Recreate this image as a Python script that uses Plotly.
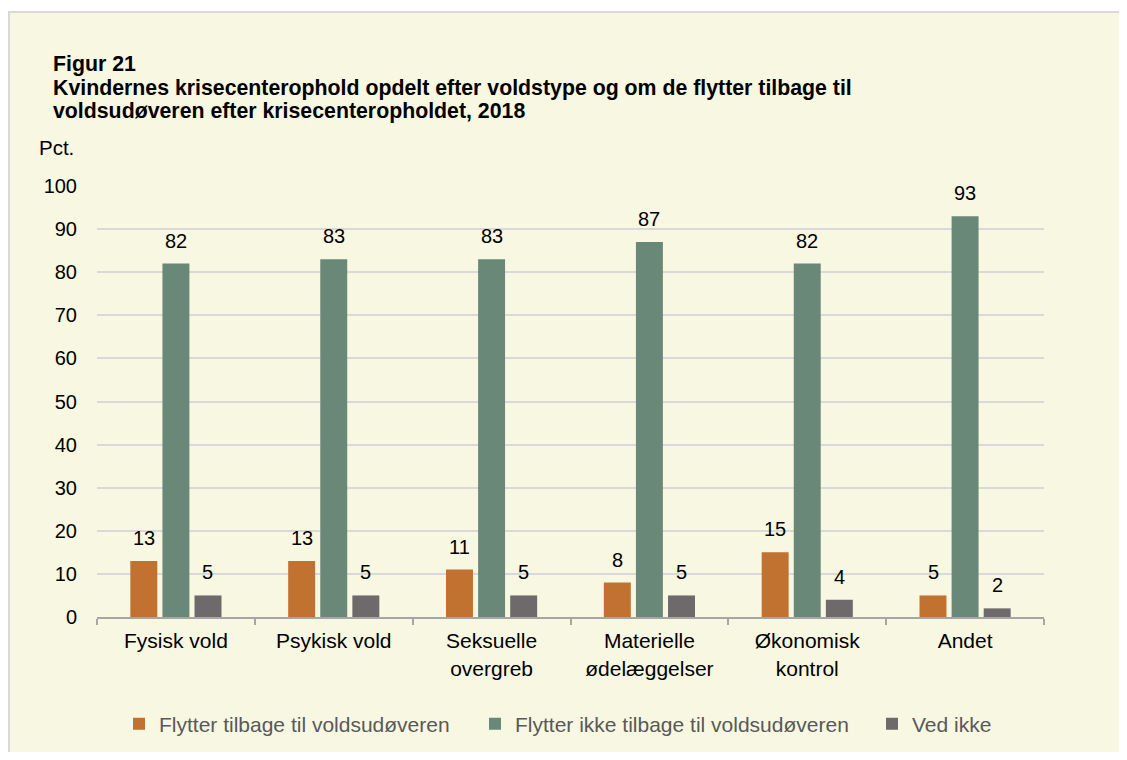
import plotly.graph_objects as go

categories = ["Fysisk vold", "Psykisk vold", "Seksuelle<br>overgreb", "Materielle<br>ødelæggelser", "Økonomisk<br>kontrol", "Andet"]
series_names = ["Flytter tilbage til voldsudøveren", "Flytter ikke tilbage til voldsudøveren", "Ved ikke"]
tilbage = [13, 13, 11, 8, 15, 5]
ikke_tilbage = [82, 83, 83, 87, 82, 93]
ved_ikke = [5, 5, 5, 5, 4, 2]
colors = ["#C17130", "#6A8877", "#6E6A6B"]
yticks = [0, 10, 20, 30, 40, 50, 60, 70, 80, 90, 100]

OFF = 8  # page body margin
W, H = 1111, 744
L, R, T, B = 97 - OFF, 1044 - OFF, 186 - OFF, 617 - OFF
FONT = "Liberation Sans, Arial, sans-serif"


def sx(px):
    return (px - OFF - L) / (R - L)


def sy(py):
    return (B - (py - OFF)) / (B - T)


def cx(px):
    return (px - OFF) / W


def cy(py):
    return 1 - (py - OFF) / H


fig = go.Figure()
all_series = [tilbage, ikke_tilbage, ved_ikke]
legend_ids = ["legend", "legend2", "legend3"]
for name, vals, col, lg in zip(series_names, all_series, colors, legend_ids):
    fig.add_trace(go.Bar(x=categories, y=vals, name=name, marker_color=col,
                         marker_line_width=0, legend=lg))

# value labels
shifts = [-32, 0, 32]
for vals, xs in zip(all_series, shifts):
    for c, v in zip(categories, vals):
        fig.add_annotation(x=c, y=v, text=str(v), showarrow=False, xshift=xs,
                           yshift=23, yanchor="middle",
                           font=dict(family=FONT, size=20, color="#000000"))

# background panel
fig.add_shape(type="rect", xref="paper", yref="paper", layer="below",
              x0=sx(9), x1=sx(1140), y0=sy(780), y1=sy(12),
              fillcolor="#F8F7E1", line=dict(color="#D9D9D9", width=2))

title_lines = [("Figur 21", 64),
               ("Kvindernes krisecenterophold opdelt efter voldstype og om de flytter tilbage til", 88),
               ("voldsudøveren efter krisecenteropholdet, 2018", 111)]
for t, y in title_lines:
    fig.add_annotation(xref="paper", yref="paper", x=sx(51), y=sy(y), text="<b>" + t + "</b>",
                       showarrow=False, xanchor="left", yanchor="middle",
                       font=dict(family=FONT, size=21.3, color="#000000"))
fig.add_annotation(xref="paper", yref="paper", x=sx(37), y=sy(147), text="Pct.",
                   showarrow=False, xanchor="left", yanchor="middle",
                   font=dict(family=FONT, size=20.5, color="#000000"))

legend_text_x = [159, 515, 912]
legend_common = dict(orientation="h", xanchor="left", yanchor="middle",
                     xref="container", yref="container", y=cy(724),
                     font=dict(family=FONT, size=21, color="#595959"),
                     bgcolor="rgba(0,0,0,0)")
legends = {}
for lg, tx in zip(legend_ids, legend_text_x):
    legends[lg] = dict(legend_common, x=cx(tx - 40))

fig.update_layout(
    width=W, height=H,
    margin=dict(l=L, r=W - R, t=T, b=H - B, autoexpand=False),
    paper_bgcolor="#FFFFFF", plot_bgcolor="rgba(0,0,0,0)",
    barmode="group", bargap=0.39, bargroupgap=0.16,
    font=dict(family=FONT, size=20, color="#000000"),
    showlegend=True,
    xaxis=dict(showgrid=False, showline=True, linecolor="#A6A6A6", linewidth=2,
               ticks="outside", tickson="boundaries", ticklen=6, tickcolor="#A6A6A6",
               tickwidth=1.5, ticklabelstandoff=4, automargin=False,
               tickfont=dict(family=FONT, size=21, color="#000000")),
    yaxis=dict(range=[0, 100], tickvals=yticks, showgrid=True, gridcolor="#D9D9D9",
               gridwidth=2, zeroline=False, showline=False, ticks="",
               ticklabelstandoff=19, automargin=False,
               tickfont=dict(family=FONT, size=20, color="#000000")),
    **legends,
)

fig.write_html("out.html")
